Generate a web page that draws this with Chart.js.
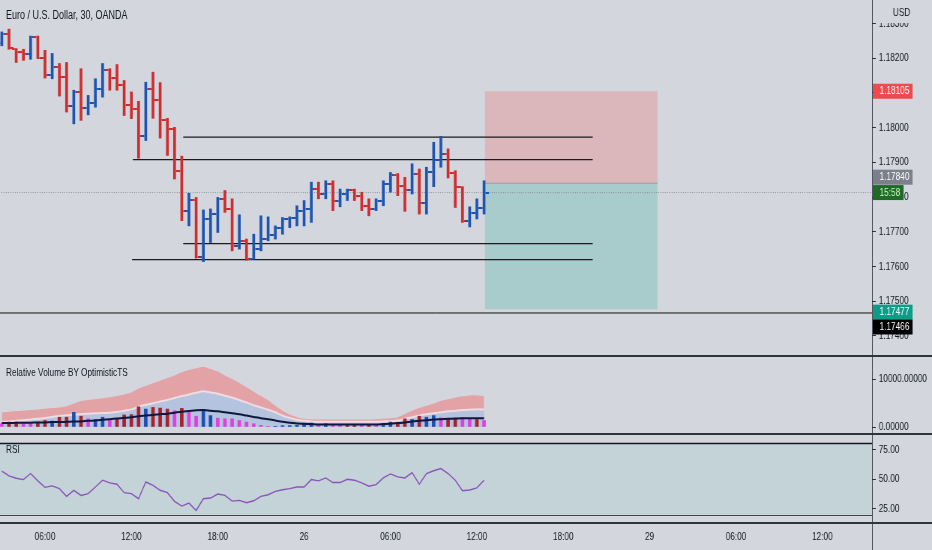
<!DOCTYPE html>
<html>
<head>
<meta charset="utf-8">
<script src="https://cdn.jsdelivr.net/npm/chart.js@4.4.0/dist/chart.umd.min.js"></script>
<style>
  html, body { margin: 0; padding: 0; }
  body { width: 932px; height: 550px; overflow: hidden; background: #d3d6dd; }
  /* the snapshot is horizontally condensed: lay out at 1243px and squeeze to 932px */
  #wrap { position: relative; width: 1243px; height: 550px; transform: scaleX(0.7498); transform-origin: 0 0;
          font-family: "Liberation Sans", Arial, sans-serif; color: #131722; }
  .pane { position: absolute; left: 0; width: 1243px; }
  .sep { position: absolute; left: 0; width: 1243px; background: #30343e; }
  .vline { position: absolute; left: 1163px; top: 0; width: 1.4px; height: 550px; background: #2b2f3a; }
  .lbl { position: absolute; left: 8px; font-size: 11px; white-space: nowrap; }
</style>
</head>
<body>
<div id="wrap">
<div class="pane" style="top:0;height:356px"><canvas id="main"></canvas></div>
<div class="pane" style="top:357px;height:77px"><canvas id="vol"></canvas></div>
<div class="pane" style="top:435px;height:115px"><canvas id="rsi"></canvas></div>
<div class="sep" style="top:355px;height:2px"></div>
<div class="sep" style="top:433px;height:2px"></div>
<div class="sep" style="top:522px;height:2px"></div>
<div class="vline"></div>
<div class="lbl" style="top:8px;font-size:12px">Euro / U.S. Dollar, 30, OANDA</div>
<div class="lbl" style="top:366px">Relative Volume BY OptimisticTS</div>
<div class="lbl" style="top:443px">RSI</div>
</div>
<script>
// 30-minute bars, index 0 = 25th 03:00
const open = [1.18243,1.18269,1.18228,1.18217,1.18211,1.18262,1.18202,1.18153,1.18175,1.18146,
  1.18062,1.18103,1.18058,1.18070,1.18112,1.18165,1.18144,1.18122,1.18064,1.18053,
  1.17977,1.18112,1.18079,1.18021,1.17997,1.17876,1.17761,1.17792,1.17626,1.17738,
  1.17752,1.17795,1.17766,1.17660,1.17674,1.17621,1.17650,1.17680,1.17691,1.17712,
  1.17737,1.17740,1.17761,1.17766,1.17823,1.17809,1.17838,1.17790,1.17810,1.17819,
  1.17804,1.17775,1.17766,1.17790,1.17838,1.17865,1.17833,1.17819,1.17867,1.17782,
  1.17871,1.17907,1.17925,1.17869,1.17830,1.17732,1.17755,1.17769];
const high = [1.18276,1.18284,1.18228,1.18226,1.18264,1.18264,1.18223,1.18214,1.18185,1.18188,
  1.18108,1.18170,1.18093,1.18141,1.18185,1.18170,1.18182,1.18136,1.18103,1.18076,
  1.18131,1.18160,1.18130,1.18027,1.18001,1.17918,1.17811,1.17799,1.17763,1.17766,
  1.17799,1.17819,1.17795,1.17749,1.17679,1.17693,1.17746,1.17743,1.17717,1.17741,
  1.17743,1.17775,1.17790,1.17843,1.17843,1.17847,1.17847,1.17823,1.17823,1.17823,
  1.17814,1.17795,1.17795,1.17847,1.17871,1.17868,1.17857,1.17896,1.17881,1.17886,
  1.17958,1.17975,1.17939,1.17876,1.17830,1.17772,1.17795,1.17847];
const low = [1.18236,1.18226,1.18188,1.18194,1.18197,1.18199,1.18143,1.18141,1.18091,1.18045,
  1.18011,1.18021,1.18037,1.18059,1.18088,1.18108,1.18108,1.18035,1.18026,1.17912,
  1.17963,1.18027,1.17970,1.17920,1.17852,1.17732,1.17717,1.17624,1.17614,1.17669,
  1.17698,1.17756,1.17645,1.17650,1.17618,1.17621,1.17645,1.17674,1.17679,1.17693,
  1.17712,1.17717,1.17717,1.17727,1.17795,1.17795,1.17761,1.17772,1.17790,1.17790,
  1.17761,1.17746,1.17761,1.17775,1.17814,1.17804,1.17759,1.17809,1.17751,1.17751,
  1.17830,1.17886,1.17855,1.17770,1.17727,1.17714,1.17737,1.17751];
const close = [1.18269,1.18230,1.18217,1.18211,1.18262,1.18202,1.18153,1.18175,1.18146,1.18062,
  1.18103,1.18058,1.18070,1.18112,1.18165,1.18144,1.18122,1.18064,1.18053,1.17977,
  1.18112,1.18079,1.18021,1.17997,1.17876,1.17761,1.17792,1.17626,1.17738,1.17752,
  1.17795,1.17766,1.17660,1.17674,1.17621,1.17650,1.17680,1.17691,1.17712,1.17737,
  1.17740,1.17761,1.17766,1.17823,1.17809,1.17838,1.17790,1.17810,1.17819,1.17804,
  1.17775,1.17766,1.17790,1.17838,1.17865,1.17833,1.17819,1.17867,1.17782,1.17871,
  1.17907,1.17925,1.17869,1.17830,1.17732,1.17755,1.17769,1.17813];

// relative volume indicator
const volume = [680,1020,1020,680,680,1020,1360,1224,2040,2040,
  3060,2244,1700,1564,2040,1360,1700,2516,2584,4216,
  3740,4080,3944,3740,3400,3876,3060,2244,3604,2380,
  1836,1700,1700,1360,1020,680,340,136,136,272,
  272,340,544,816,544,680,476,408,476,544,
  476,544,408,544,1020,816,1700,1564,2244,2040,
  2380,1904,1700,1836,1904,1700,1564,1360];
const volKind = "mrrmmrrbrrbrmbbmrrrrbrrrmrmmbbmmmmmmmmbbbbbbmbmmrrmrmbbrrbrbbmrrmmrm";
const volUpper = [3060,3196,3332,3400,3536,3672,3808,3944,4080,4352,
  4896,5440,5644,5780,5984,6188,6460,6800,7208,8024,
  8568,9112,9656,10200,10744,11424,11900,12240,12580,12104,
  11560,10744,9996,9180,8296,7344,6460,5576,4420,3400,
  2584,2040,1700,1564,1564,1564,1564,1564,1564,1564,
  1564,1564,1632,1700,1836,2040,2720,3400,3944,4420,
  4896,5440,5780,6120,6392,6596,6596,6460];
const volMid = [1020,1156,1292,1428,1564,1700,1904,2108,2312,2448,
  2584,2720,2788,2856,2924,2992,3128,3400,3672,4216,
  4624,4964,5304,5644,6052,6460,6800,7140,7480,7208,
  6936,6528,6120,5644,5100,4556,4080,3604,3060,2380,
  1904,1496,1292,1156,1088,1088,1088,1088,1088,1088,
  1088,1088,1088,1156,1224,1360,1700,2040,2380,2652,
  2856,3060,3264,3400,3536,3604,3672,3672];
const volAvg = [816,816,884,884,884,952,952,1020,1020,1088,
  1156,1156,1292,1360,1496,1632,1768,1904,2040,2244,
  2380,2516,2652,2788,2992,3196,3332,3468,3536,3400,
  3264,3060,2856,2652,2380,2108,1836,1632,1360,1088,
  884,748,680,612,544,544,544,544,544,544,
  544,544,544,612,680,816,952,1156,1292,1428,
  1564,1632,1700,1768,1836,1836,1836,1836];

const rsi = [56.8,52.8,50.8,49.7,54.8,48.6,43.2,44.4,42.1,35.6,
  40.7,36.4,37.9,43.5,49.2,46.9,45.8,38.7,37.9,33.6,
  47.7,44.9,40.7,38.7,31.4,27.4,29.9,23.7,33.6,34.2,
  37.6,36.4,31.6,32.2,30.2,31.9,35.6,37.0,39.8,41.2,
  42.1,43.5,43.5,49.7,48.6,51.1,47.2,47.2,50.0,49.2,
  46.9,44.1,45.5,51.1,54.5,52.0,51.1,55.6,45.8,54.8,
  57.1,59.0,54.8,49.2,40.4,41.0,42.7,49.2];

// drawings: [startIdx, endIdx, price]
const trendLines = [[25.2, 82.1, 1.17973], [18.2, 82.1, 1.17908], [25.2, 82.1, 1.17666], [18.1, 82.1, 1.17620]];
const hLine = 1.17466;
const lastPrice = 1.17813;
const position = { from: 67.1, to: 91.1, entry: 1.17840, stop: 1.18105, target: 1.17477 };

const priceTicks = [1.174, 1.175, 1.176, 1.177, 1.178, 1.179, 1.180, 1.181, 1.182, 1.183];
const volTicks = [0, 10000];
const rsiTicks = [25, 50, 75];
const timeTickIdx = [6, 18, 30, 42, 54, 66, 78, 90, 102, 114];
const timeTickLabels = ['06:00', '12:00', '18:00', '26', '06:00', '12:00', '18:00', '29', '06:00', '12:00'];

const FONT = '"Liberation Sans", Arial, sans-serif';
const UP = '#1d54b0', DN = '#cf2c2e';
const VOLC = { b: '#1c4fae', r: '#a8222c', m: '#e23fe0' };

Chart.defaults.font.family = FONT;
Chart.defaults.font.size = 11;
Chart.defaults.color = '#131722';
Chart.defaults.animation = false;
Chart.defaults.events = [];
Chart.defaults.plugins.legend.display = false;
Chart.defaults.plugins.tooltip.enabled = false;

const layout = { padding: 0, autoPadding: false };
function xAxis(show) {
  return { type: 'linear', min: -0.25, max: 120.9, offset: false, display: show };
}
function rightAxis(min, max, vals, digits) {
  return {
    type: 'linear', position: 'right', min: min, max: max,
    afterFit: s => { s.width = 80; s.paddingTop = 0; s.paddingBottom = 0; },
    afterBuildTicks: s => { s.ticks = vals.map(v => ({ value: v })); },
    grid: { drawOnChartArea: false, drawTicks: true, tickLength: 5, color: '#2b2f3a' },
    border: { display: false },
    ticks: { padding: 4, autoSkip: false, callback: v => Number(v).toFixed(digits) }
  };
}
function tickMark(color, side) {
  const c = document.createElement('canvas');
  c.width = 12; c.height = 2;
  const g = c.getContext('2d');
  g.fillStyle = color;
  g.fillRect(side < 0 ? 0 : 8, 0, 4, 2);
  return c;
}
const marks = { openUp: tickMark(UP, -1), openDn: tickMark(DN, -1), closeUp: tickMark(UP, 1), closeDn: tickMark(DN, 1) };
const isUp = i => close[i] >= open[i];
const pts = arr => arr.map((v, i) => ({ x: i, y: v }));
const flat = (a, b, y) => [{ x: a, y: y }, { x: b, y: y }];

// price tags on the right axis: [value, text, bg, fg, width, nudge]
const tags = [
  [position.stop, '1.18105', '#ee4b4e', '#ffffff', 53, 0],
  [position.entry, '1.17840', '#7c808b', '#ffffff', 53, -6],
  [lastPrice, '15:58', '#1f6a26', '#c8f5c0', 41, 0],
  [position.target, '1.17477', '#0c9c88', '#ffffff', 53, 3],
  [hLine, '1.17466', '#000000', '#ffffff', 53, 14]
];
const priceTags = {
  id: 'priceTags',
  afterDraw(chart) {
    const { ctx } = chart;
    const y = chart.scales.y;
    ctx.save();
    ctx.font = '11px ' + FONT;
    ctx.textBaseline = 'middle';
    tags.forEach(t => {
      const py = y.getPixelForValue(t[0]) + t[5];
      ctx.fillStyle = t[2];
      ctx.fillRect(y.left + 1, py - 7.5, t[4], 15);
      ctx.fillStyle = t[3];
      ctx.fillText(t[1], y.left + 10, py);
    });
    // the currency caption hides the upper half of the top price label
    ctx.fillStyle = '#d3d6dd';
    ctx.fillRect(y.left + 2, 0, 80, 23);
    ctx.fillStyle = '#131722';
    ctx.textAlign = 'right';
    ctx.fillText('USD', y.left + 51, 13);
    ctx.restore();
  }
};

new Chart(document.getElementById('main'), {
  type: 'bar',
  data: {
    datasets: [
      { type: 'scatter', data: pts(open), order: 1, pointRadius: 3,
        pointStyle: c => isUp(c.dataIndex) ? marks.openUp : marks.openDn },
      { type: 'scatter', data: pts(close), order: 1, pointRadius: 3,
        pointStyle: c => isUp(c.dataIndex) ? marks.closeUp : marks.closeDn },
      { type: 'bar', order: 2, barThickness: 3, grouped: false,
        data: low.map((l, i) => ({ x: i, y: [l, high[i]] })),
        backgroundColor: low.map((l, i) => isUp(i) ? UP : DN) },
      ...trendLines.map(t => ({ type: 'line', order: 3, data: flat(t[0], t[1], t[2]),
        borderColor: '#1b1b1f', borderWidth: 1.3, pointRadius: 0 })),
      { type: 'line', order: 3, data: flat(-1, 122, hLine), borderColor: '#111', borderWidth: 1, pointRadius: 0 },
      { type: 'line', order: 4, data: flat(-1, 122, lastPrice), borderColor: '#80858f', borderWidth: 1,
        borderDash: [1, 2], pointRadius: 0 },
      { type: 'line', order: 5, data: flat(position.from, position.to, position.entry),
        fill: { value: position.stop }, backgroundColor: '#dbb6bb', borderColor: '#9da3a9', borderWidth: 1, pointRadius: 0 },
      { type: 'line', order: 5, data: flat(position.from, position.to, position.entry),
        fill: { value: position.target }, backgroundColor: '#a8cbcb', borderColor: '#9da3a9', borderWidth: 1, pointRadius: 0 }
    ]
  },
  options: {
    responsive: true, maintainAspectRatio: false, layout: layout,
    scales: { x: xAxis(false), y: rightAxis(1.17342, 1.18368, priceTicks, 5) }
  },
  plugins: [priceTags]
});

new Chart(document.getElementById('vol'), {
  type: 'bar',
  data: {
    datasets: [
      { type: 'line', order: 0, data: pts(volAvg), borderColor: '#0f1640', borderWidth: 2, pointRadius: 0, tension: 0.3 },
      { type: 'bar', order: 1, data: pts(volume), barThickness: 4, grouped: false,
        backgroundColor: volume.map((v, i) => VOLC[volKind[i]]) },
      { type: 'line', order: 2, data: pts(volMid), fill: 'origin', backgroundColor: '#b4c3de',
        borderColor: '#efdcdf', borderWidth: 2, pointRadius: 0, tension: 0.3 },
      { type: 'line', order: 3, data: pts(volUpper), fill: 'origin', backgroundColor: '#e3a3a6',
        borderWidth: 0, pointRadius: 0, tension: 0.3 }
    ]
  },
  options: {
    responsive: true, maintainAspectRatio: false, layout: layout,
    scales: { x: xAxis(false), y: rightAxis(-1460, 14600, volTicks, 5) }
  }
});

new Chart(document.getElementById('rsi'), {
  type: 'line',
  data: {
    datasets: [
      { data: pts(rsi), order: 0, borderColor: '#8a55b8', borderWidth: 1.4, pointRadius: 0 },
      { data: flat(-1, 122, 80), order: 1, fill: { value: 20 }, backgroundColor: '#c3d3d8',
        borderColor: '#15161a', borderWidth: 1.5, pointRadius: 0 },
      { data: flat(-1, 122, 20), order: 1, borderColor: '#15161a', borderWidth: 1.5, pointRadius: 0 }
    ]
  },
  options: {
    responsive: true, maintainAspectRatio: false, layout: layout,
    scales: {
      x: { type: 'linear', min: -0.25, max: 120.9, offset: false, position: 'bottom',
        afterFit: s => { s.height = 27; s.paddingLeft = 0; s.paddingRight = 0; },
        afterBuildTicks: s => { s.ticks = timeTickIdx.map(v => ({ value: v })); },
        grid: { display: false, drawTicks: false }, border: { display: false },
        ticks: { padding: 7, autoSkip: false, maxRotation: 0,
          callback: v => timeTickLabels[timeTickIdx.indexOf(v)] } },
      y: rightAxis(13.2, 87.2, rsiTicks, 2)
    }
  }
});
</script>
</body>
</html>
